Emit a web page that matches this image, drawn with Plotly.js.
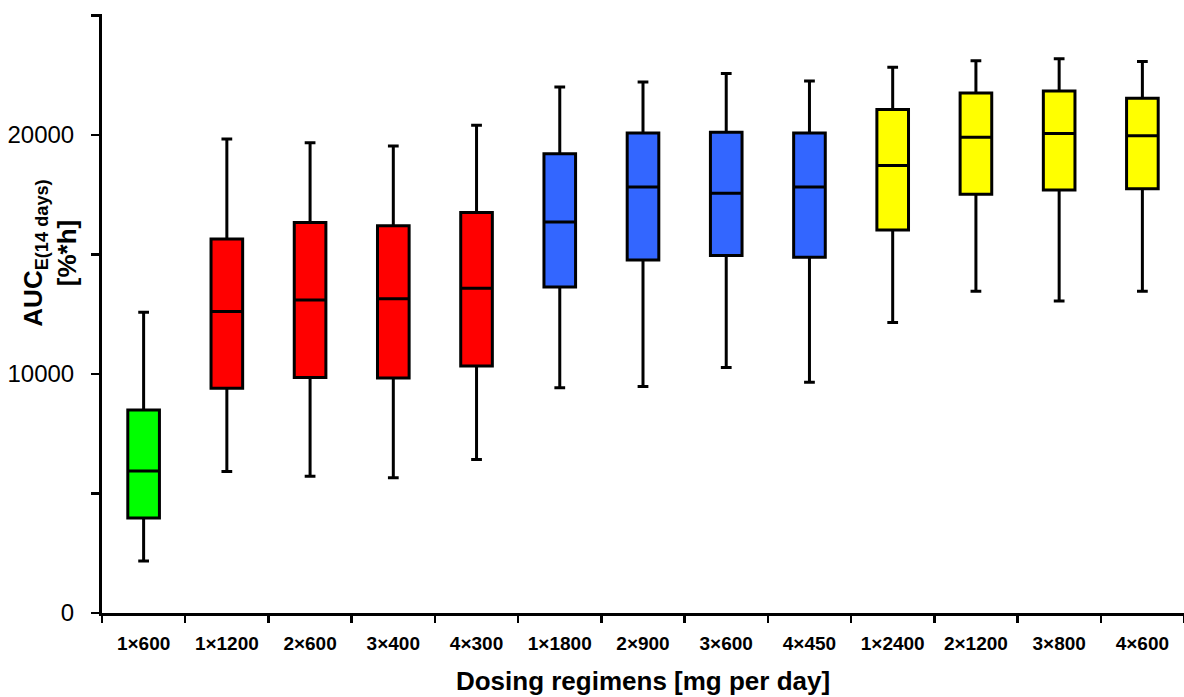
<!DOCTYPE html>
<html>
<head>
<meta charset="utf-8">
<script src="https://cdn.plot.ly/plotly-3.0.1.min.js"></script>
<style>
html,body{margin:0;padding:0;background:#fff;}
#chart{width:1184px;height:697px;}
</style>
</head>
<body>
<div id="chart"></div>
<script>
// Dosing regimens (categories)
const categories = ["1×600","1×1200","2×600","3×400","4×300","1×1800","2×900","3×600","4×450","1×2400","2×1200","3×800","4×600"];
// Box statistics (AUC, %*h)
const lowerWhisker = [2180, 5920, 5720, 5660, 6420, 9420, 9480, 10270, 9650, 12150, 13460, 13050, 13460];
const q1Values     = [3980, 9400, 9850, 9830, 10330, 13640, 14770, 14960, 14890, 16030, 17520, 17700, 17750];
const medianValues = [5940, 12620, 13100, 13150, 13590, 16360, 17820, 17560, 17820, 18720, 19910, 20060, 19970];
const q3Values     = [8490, 15650, 16340, 16200, 16760, 19220, 20080, 20120, 20080, 21070, 21760, 21840, 21540];
const upperWhisker = [12580, 19830, 19680, 19540, 20410, 22010, 22220, 22570, 22260, 22830, 23110, 23190, 23080];
// Colour groups (indices of categories)
const groups = [
  {idx:[0], color:"#00FF00"},
  {idx:[1,2,3,4], color:"#FF0000"},
  {idx:[5,6,7,8], color:"#3366FF"},
  {idx:[9,10,11,12], color:"#FFFF00"}
];
const yTickVals = [0, 5000, 10000, 15000, 20000, 25000];
const yTickText = ["0", "", "10000", "", "20000", ""];

const pick = (arr, idx) => idx.map(i => arr[i]);
const traces = groups.map(g => ({
  type: "box",
  x: pick(categories, g.idx),
  lowerfence: pick(lowerWhisker, g.idx),
  q1: pick(q1Values, g.idx),
  median: pick(medianValues, g.idx),
  q3: pick(q3Values, g.idx),
  upperfence: pick(upperWhisker, g.idx),
  fillcolor: g.color,
  line: {color: "#000000", width: 3},
  width: 0.38,
  whiskerwidth: 0.34,
  boxpoints: false,
  showlegend: false,
  hoverinfo: "skip"
}));

const layout = {
  width: 1184, height: 697,
  margin: {l: 102, r: 0, t: 14, b: 84},
  paper_bgcolor: "#ffffff",
  plot_bgcolor: "#ffffff",
  boxmode: "overlay",
  font: {family: "Liberation Sans, Arial, sans-serif", color: "#000000"},
  xaxis: {
    type: "category",
    categoryorder: "array",
    categoryarray: categories,
    range: [-0.5, 12.5],
    tickson: "boundaries",
    ticks: "outside",
    ticklen: 7,
    tickwidth: 2.5,
    tickcolor: "#000",
    showline: true,
    linecolor: "#000",
    linewidth: 3,
    showgrid: false,
    zeroline: false,
    tickfont: {size: 19, family: "Liberation Sans, Arial, sans-serif", weight: "bold"},
    ticklabelstandoff: 11,
    title: {text: "<b>Dosing regimens [mg per day]</b>", font: {size: 26}, standoff: 20}
  },
  yaxis: {
    range: [0, 25063],
    tickvals: yTickVals,
    ticktext: yTickText,
    ticks: "outside",
    ticklen: 8,
    tickwidth: 2.5,
    tickcolor: "#000",
    showline: true,
    linecolor: "#000",
    linewidth: 3,
    showgrid: false,
    zeroline: false,
    tickfont: {size: 24},
    ticklabelstandoff: 12
  },
  annotations: [{
    xref: "paper", yref: "paper",
    x: -0.048, y: 0.60,
    xanchor: "center", yanchor: "middle",
    textangle: -90,
    showarrow: false,
    align: "center",
    text: "<b>AUC<sub>E(14 days)</sub><br>[%*h]</b>",
    font: {size: 26, color: "#000"}
  }]
};

Plotly.newPlot("chart", traces, layout, {displayModeBar: false, staticPlot: true});
</script>
</body>
</html>
